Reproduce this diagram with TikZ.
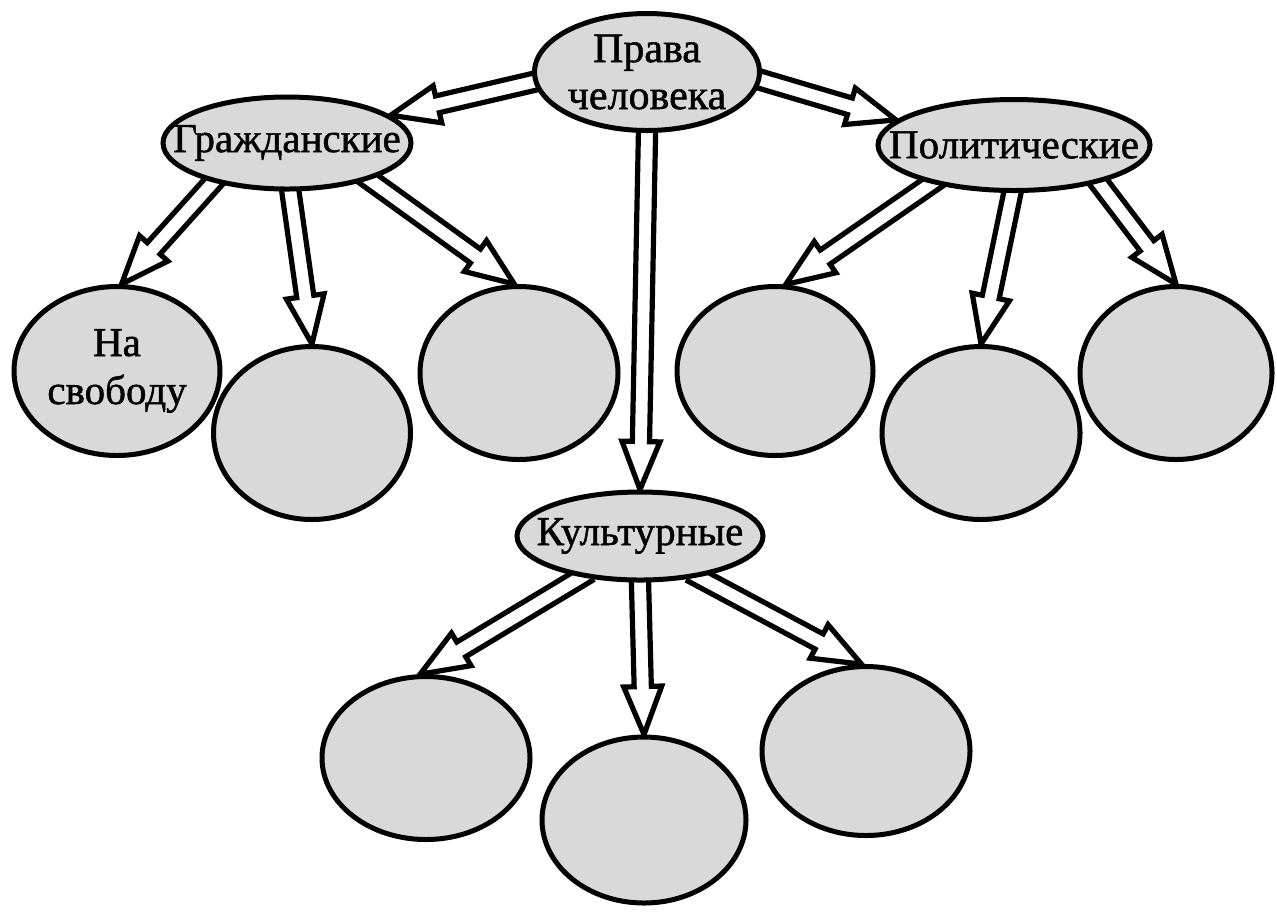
\documentclass[tikz,border=0pt]{standalone}
\usepackage{fontspec}
\setmainfont{Liberation Serif}[FakeBold=1.2]
\usetikzlibrary{shapes.geometric,calc}
\pgfdeclarelayer{background}
\pgfsetlayers{background,main}
\tikzset{
  ell/.style={ellipse, draw, line width=2.5pt, fill=black!15, inner sep=0pt},
  txt/.style={font=\fontsize{20.5}{23.5}\selectfont, align=center, inner sep=0pt},
  arrowline/.style={draw, line width=2.6pt, line join=miter, miter limit=20, fill=white}
}
\newcommand\harrow[2]{%
  \path (#1) coordinate (hA0) (#2) coordinate (hB);
  \path ($(hA0)!-5pt!(hB)$) coordinate (hA);
  \path ($(hB)!24pt!(hA)$) coordinate (hH);
  \draw[arrowline] ($(hA)!4.3pt!90:(hB)$) -- ($(hH)!4.3pt!90:(hB)$) -- ($(hH)!9.5pt!90:(hB)$) -- (hB)
    -- ($(hH)!9.5pt!-90:(hB)$) -- ($(hH)!4.3pt!-90:(hB)$) -- ($(hA)!4.3pt!-90:(hB)$);
}
\begin{document}
\begin{tikzpicture}[x=0.5pt,y=-0.5pt]
\useasboundingbox (0,0) rectangle (1277,912);
% top level
\node[ell, minimum width=112.5pt, minimum height=58.5pt, label={[txt, font=\fontsize{21}{23.5}\selectfont]center:{Права\\человека}}] (P) at (647,72) {};
\node[ell, minimum width=124pt, minimum height=46pt, label={[txt]center:Гражданские}] (G) at (287,143) {};
\node[ell, minimum width=136pt, minimum height=45.5pt, label={[txt]center:Политические}] (Q) at (1014,145) {};
\node[ell, minimum width=123pt, minimum height=44pt, label={[txt]center:Культурные}] (K) at (640,536) {};
% circles
\node[ell, minimum width=103pt, minimum height=84.5pt, label={[txt, font=\fontsize{20.5}{24}\selectfont]center:{На\\свободу}}] (C1) at (117,371) {};
\node[ell, minimum width=98.5pt, minimum height=86.5pt] (C2) at (312,433) {};
\node[ell, minimum width=99pt, minimum height=86.5pt] (C3) at (519,373) {};
\node[ell, minimum width=98pt, minimum height=84.5pt] (C4) at (775,371) {};
\node[ell, minimum width=99pt, minimum height=86.5pt] (C5) at (981,433) {};
\node[ell, minimum width=96pt, minimum height=86.5pt] (C6) at (1176,373) {};
\node[ell, minimum width=104pt, minimum height=81.5pt] (C7) at (426,758) {};
\node[ell, minimum width=102pt, minimum height=83pt] (C8) at (644,820) {};
\node[ell, minimum width=104pt, minimum height=84.5pt] (C9) at (866,751) {};
% arrows
\begin{pgfonlayer}{background}
\harrow{P.185}{G.15}
\harrow{P.356}{Q.168}
\harrow{P.south}{K.north}
\harrow{G.208}{C1.87}
\harrow{G.274}{C2.north}
\harrow{G.336}{C3.93}
\harrow{Q.205}{C4.83}
\harrow{Q.268}{C5.north}
\harrow{Q.336}{C6.90}
\harrow{K.215}{C7.94}
\harrow{K.south}{C8.north}
\harrow{K.325}{C9.93}
\end{pgfonlayer}
\end{tikzpicture}
\end{document}
